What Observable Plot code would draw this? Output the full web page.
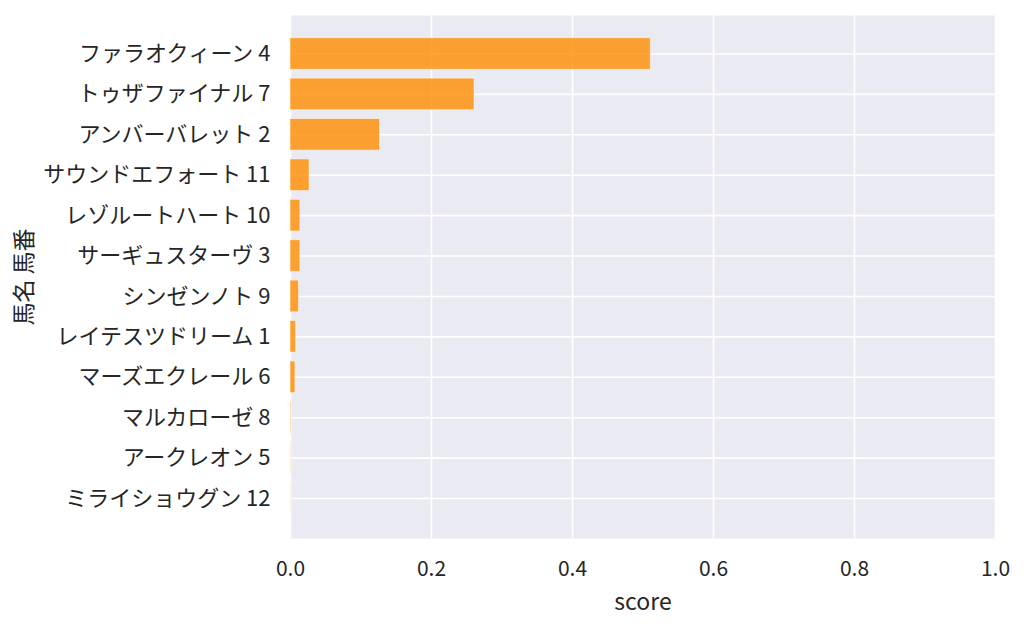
<!DOCTYPE html>
<html>
<head>
<meta charset="utf-8">
<script src="https://cdn.jsdelivr.net/npm/d3@7"></script>
<script src="https://cdn.jsdelivr.net/npm/@observablehq/plot@0.6"></script>
<style>
  html, body { margin: 0; padding: 0; background: #fff; }
  svg { display: block; }
</style>
</head>
<body>
<div id="chart"></div>
<script>
const horseNames = ["ファラオクィーン", "トゥザファイナル", "アンバーバレット", "サウンドエフォート", "レゾルートハート", "サーギュスターヴ", "シンゼンノト", "レイテスツドリーム", "マーズエクレール", "マルカローゼ", "アークレオン", "ミライショウグン"];
const horseNumbers = [4, 7, 2, 11, 10, 3, 9, 1, 6, 8, 5, 12];
const scores = [0.511, 0.261, 0.127, 0.027, 0.014, 0.014, 0.012, 0.008, 0.007, 0.001, 0.0005, 0.0003];
const xTicks = [0, 0.2, 0.4, 0.6, 0.8, 1.0];

const data = horseNames.map((n, i) => ({label: `${n} ${horseNumbers[i]}`, score: scores[i]}));
const labels = data.map(d => d.label);

const font = "'Noto Sans CJK JP', 'Noto Sans', sans-serif";

const chart = Plot.plot({
  width: 1024,
  height: 627,
  marginLeft: 290,
  marginRight: 29,
  marginTop: 15,
  marginBottom: 89,
  style: {fontFamily: font, fontSize: "21px", color: "#262626", background: "#fff"},
  x: {domain: [0, 1], ticks: xTicks, tickFormat: d3.format(".1f")},
  y: {domain: labels, range: [33.3, 518.2], padding: 0, round: false},
  marks: [
    Plot.frame({fill: "#eaeaf2", stroke: null}),
    Plot.gridX(xTicks, {stroke: "#ffffff", strokeOpacity: 1, strokeWidth: 1.6}),
    Plot.gridY(labels, {stroke: "#ffffff", strokeOpacity: 1, strokeWidth: 1.6}),
    Plot.barX(data, {x: "score", y: "label", insetTop: 4.4, insetBottom: 4.4, fill: "#ff8c00", fillOpacity: 0.8, stroke: "#ffffff", strokeWidth: 1, strokeOpacity: 0.5}),
    Plot.axisX({ticks: xTicks, tickFormat: d3.format(".1f"), tickSize: 0, tickPadding: 23, fontSize: 21, label: null}),
    Plot.axisX({ticks: [], tickSize: 0, fontSize: 23, label: "score", labelAnchor: "center", labelArrow: "none", labelOffset: 71}),
    Plot.axisY({tickSize: 0, tickPadding: 20, fontSize: 22, label: null}),
    Plot.axisY({ticks: [], tickSize: 0, fontSize: 23, label: "馬名 馬番", labelAnchor: "center", labelArrow: "none", labelOffset: 275})
  ]
});
document.getElementById("chart").appendChild(chart);
</script>
</body>
</html>
